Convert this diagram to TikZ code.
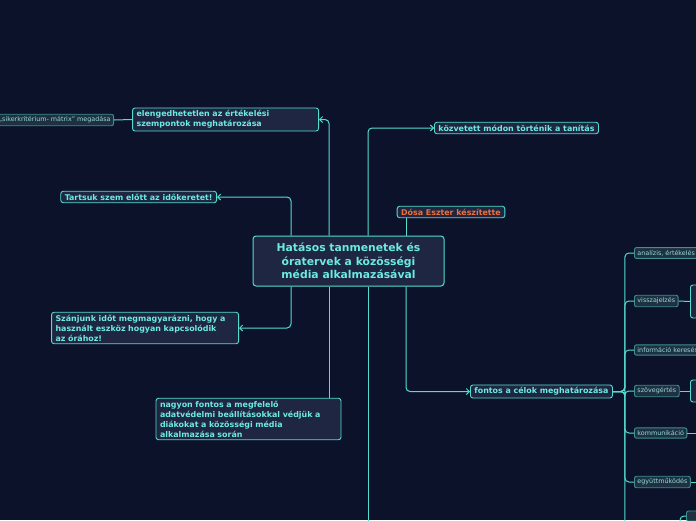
\documentclass[tikz,border=0pt]{standalone}
\usepackage{fontspec}
\setmainfont{DejaVu Sans}
\usepackage{xcolor}
\definecolor{cBg}{HTML}{0B1229}
\definecolor{cFill}{HTML}{1E2641}
\definecolor{cLine}{HTML}{55DCCF}
\definecolor{cText}{HTML}{6CEBE2}
\definecolor{cName}{HTML}{EE6F3C}
\definecolor{cSubFill}{HTML}{1D3142}
\definecolor{cSubLine}{HTML}{3F8F8E}
\definecolor{cSubText}{HTML}{9AD9D8}
\usepackage{tikz}
\usetikzlibrary{arrows.meta}
\tikzset{
  node-root/.style={draw=cLine,line width=1pt,fill=cFill,rounded corners=3pt,
    text=cText,align=center,font=\fontsize{10.8}{13.3}\selectfont\bfseries,
    minimum width=191pt,minimum height=50pt,inner sep=2pt},
  node-box/.style={draw=cLine,line width=0.9pt,fill=cFill,rounded corners=2.5pt,
    text=cText,align=left,font=\fontsize{7.9}{10}\selectfont\bfseries,
    inner xsep=4pt,inner ysep=2.5pt},
  node-sub/.style={draw=cSubLine,line width=0.9pt,fill=cSubFill,rounded corners=2pt,
    text=cSubText,font=\fontsize{6.4}{8}\selectfont,inner xsep=3pt,inner ysep=2.5pt,
    anchor=west},
  link/.style={draw=cLine,line width=1pt,rounded corners=4pt},
  arrow/.style={link,-{Straight Barb[length=3pt,width=6pt]}},
}
\begin{document}
\begin{tikzpicture}[x=1pt,y=-1pt]
  \fill[cBg] (0,0) rectangle (696,520);
  \useasboundingbox (0,0) rectangle (696,520);
  \clip (0,0) rectangle (696,520);
  \coordinate (offpage) at (348.5,540);

  % central topic and main branches
  \node[node-root] (root) at (348.5,261) {Hatásos tanmenetek és\\óratervek a közösségi\\ média alkalmazásával};
  \node[node-box,anchor=east,text width=178pt] (limit) at (319,119.5) {elengedhetetlen az értékelési\\szempontok meghatározása};
  \node[node-sub,anchor=east] (matrix) at (114,120) {„sikerkritérium- mátrix” megadása};
  \node[node-box,anchor=east] (time) at (217,197) {Tartsuk szem előtt az időkeretet!};
  \node[node-box,anchor=east,text width=179pt] (explain) at (239,328) {Szánjunk időt megmagyarázni, hogy a\\használt eszköz hogyan kapcsolódik\\az órához!};
  \node[node-box,text width=177pt] (privacy) at (248.5,419) {nagyon fontos a megfelelő\\adatvédelmi beállításokkal védjük a\\diákokat a közösségi média\\alkalmazása során};
  \node[node-box,anchor=west] (indirect) at (434,128) {közvetett módon történik a tanítás};
  \node[node-box,text=cName] (author) at (451,212) {Dósa Eszter készítette};
  \node[node-box,anchor=west] (goals) at (470,391.5) {fontos a célok meghatározása};

  % goals: sub-topics
  \node[node-sub] (analysis) at (634,253) {analízis, értékelés};
  \node[node-sub] (feedback) at (634,301) {visszajelzés};
  \node[node-sub] (search) at (634,350) {információ keresés};
  \node[node-sub] (reading) at (634,391) {szövegértés};
  \node[node-sub] (comm) at (634,433) {kommunikáció};
  \node[node-sub] (collab) at (634,482) {együttműködés};
  \node[node-box,anchor=west,minimum width=30pt,minimum height=33pt] (feedbackx) at (690,301.5) {};
  \node[node-box,anchor=west,minimum width=30pt,minimum height=22pt] (readingx) at (690,391) {};
  \node[node-sub,minimum width=30pt,align=left] (ko) at (686,516) {kö};

  \draw[arrow] ([xshift=-57.5pt]root.north) |- (time.east);
  \draw[arrow] ([xshift=-57.5pt]root.south) |- (explain.east);
  \draw[arrow] ([xshift=-19.5pt]root.north) |- (limit.east);
  \draw[link] ([xshift=-19.5pt]root.south) -- ([xshift=-19.5pt]root.south |- privacy.north);
  \draw[arrow] ([xshift=19.5pt]root.north) |- (indirect.west);
  \draw[link] ([xshift=19.5pt]root.south) -- ([xshift=19.5pt]root.south |- offpage);
  \draw[link] ([xshift=57.5pt]root.north) -- ([xshift=57.5pt]root.north |- author.south);
  \draw[arrow] ([xshift=57.5pt]root.south) |- (goals.west);
  \draw[link] (limit.west) -- (matrix.east);

  \foreach \sub in {analysis,feedback,search,reading,comm,collab}
    \draw[link] (goals.east) -- ++(12,0) |- (\sub.west);
  \draw[link] (goals.east) -- ++(12,0) -- ++(0,160);
  \draw[link] (feedback.east) -- (feedbackx.west);
  \draw[link] (reading.east) -- (readingx.west);
  \draw[link] (comm.east) -- ++(20,0);
  \draw[link] (collab.east) -- ++(20,0);
  \draw[link] (ko.west) -| ++(-6,10);
\end{tikzpicture}
\end{document}
